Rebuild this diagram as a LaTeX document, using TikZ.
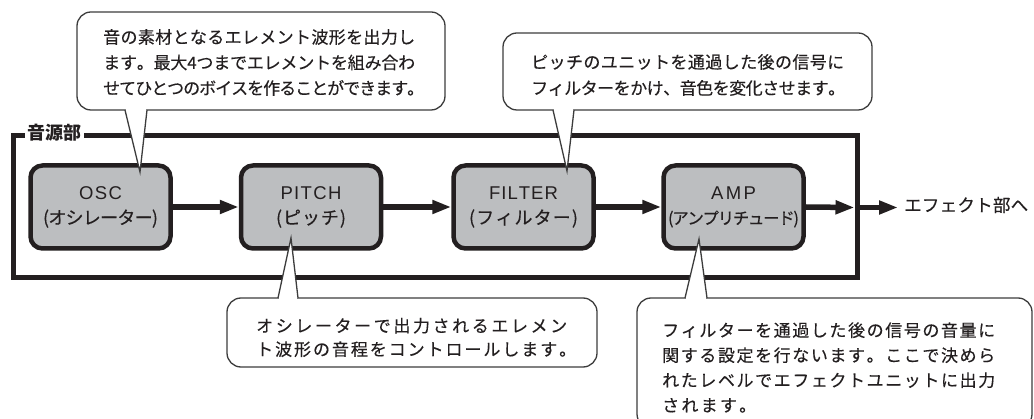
\documentclass[tikz,border=0pt]{standalone}
\usepackage{fontspec}
\setmainfont{Noto Sans CJK JP}[FakeBold=0.3]
\newfontfamily\labf{Noto Sans CJK JP}
\newfontfamily\latf{Liberation Sans}
\usetikzlibrary{arrows.meta}
\definecolor{ink}{HTML}{231F20}
\definecolor{boxgray}{HTML}{BCBEC0}
\definecolor{cline}{HTML}{3C3C3C}
\def\sprdglue{\hskip0pt plus1fil minus1fil\relax}
\def\sprd#1{\sprdA#1\relax}
\def\sprdA#1#2{#1\ifx\relax#2\else\sprdglue\expandafter\sprdA\expandafter#2\fi}
\newcommand\jl[2]{\makebox[#1pt][s]{\sprd{#2}}}
\tikzset{
  frame/.style={draw=ink, line width=5pt},
  blk/.style={draw=ink, line width=4.5pt, fill=boxgray, rounded corners=12pt,
    minimum width=140pt, minimum height=83pt, inner sep=0pt, align=center,
    text=ink, font=\fontsize{18}{25}\selectfont},
  arr/.style={draw=ink, line width=5.5pt, -{Triangle[length=19pt,width=13pt]}},
  callb/.style={draw=cline, line width=1.3pt, fill=white, rounded corners=14pt},
  tail/.style={draw=cline, line width=1.3pt, fill=white, line join=miter},
  ctext/.style={anchor=west, inner sep=0pt, align=left, text=ink},
  lab/.style={fill=white, inner xsep=2.5pt, inner ysep=0pt, text=ink,
    font=\labf\bfseries\fontsize{18}{18}\selectfont},
}
\begin{document}
\begin{tikzpicture}[x=1pt,y=-1pt]
\clip (0,0) rectangle (1034,419);
\fill[white] (0,0) rectangle (1034,419);
% frame
\draw[frame] (13,136) rectangle (857,278);
\node[lab] (src) at (54.5,133) {音源部};
% blocks
\node[blk] (osc) at (100.5,207) {{\fontsize{18.5}{25}\latf\jl{43}{OSC}}\\\jl{115}{(オシレーター)}};
\node[blk] (pitch) at (311,207) {{\fontsize{18.5}{25}\latf\jl{61}{PITCH}}\\\jl{70}{(ピッチ)}};
\node[blk] (filter) at (523.5,207) {{\fontsize{18.5}{25}\latf\jl{69}{FILTER}}\\\jl{109}{(フィルター)}};
\node[blk] (amp) at (733.5,207) {{\fontsize{18.5}{25}\latf\jl{45}{AMP}}\\{\fontsize{16.5}{25}\selectfont\jl{131}{(アンプリチュード)}}};
\coordinate (frR) at (854.5,207.5);
\coordinate (frO) at (857,207.5);
\node[inner sep=0pt, anchor=west, text=ink, font=\fontsize{17.5}{20}\selectfont] (out) at (904,205) {\jl{124}{エフェクト部へ}};
% arrows
\draw[arr] (osc.east) -- (pitch.west);
\draw[arr] (pitch.east) -- (filter.west);
\draw[arr] (filter.east) -- (amp.west);
\draw[arr] (amp.east) -- (frR);
\draw[arr, shorten >=6pt] (frO) -- (frO -| out.west);
% callout OSC
\filldraw[callb] (77,12) rectangle (445,110);
\fill[white] (125.7,108.8) rectangle (146.3,111.2);
\filldraw[tail] (125,110) -- (140,172) -- (147,110);
\node[ctext, font=\fontsize{17}{25.5}\selectfont] (tosc) at (103,62.5)
  {\jl{312}{音の素材となるエレメント波形を出力し}\\
   \jl{312}{ます。最大4つまでエレメントを組み合わ}\\
   \jl{321}{せてひとつのボイスを作ることができます。}};
% callout FILTER
\filldraw[callb] (503,33) rectangle (872,110);
\fill[white] (553.7,108.8) rectangle (573.3,111.2);
\filldraw[tail] (553,110) -- (567,171) -- (574,110);
\node[ctext, font=\fontsize{17}{26}\selectfont] (tfilter) at (531,75)
  {\jl{313}{ピッチのユニットを通過した後の信号に}\\
   \jl{314}{フィルターをかけ、音色を変化させます。}};
% callout PITCH
\filldraw[callb] (227,298) rectangle (597,367);
\fill[white] (278.7,296.8) rectangle (297.3,299.2);
\filldraw[tail] (278,298) -- (291,238) -- (298,298);
\node[ctext, font=\fontsize{17}{23.5}\selectfont] (tpitch) at (256,337.5)
  {\jl{311}{オシレーターで出力されるエレメン}\\
   \jl{320}{ト波形の音程をコントロールします。}};
% callout AMP
\filldraw[callb] (637,298) rectangle (1032,428);
\fill[white] (685.7,296.8) rectangle (706.3,299.2);
\filldraw[tail] (685,298) -- (699,239) -- (707,298);
\node[ctext, font=\fontsize{17}{25}\selectfont] (tamp) at (662,367.5)
  {\jl{333}{フィルターを通過した後の信号の音量に}\\
   \jl{333}{関する設定を行ないます。ここで決めら}\\
   \jl{333}{れたレベルでエフェクトユニットに出力}\\
   \jl{94}{されます。}};
\end{tikzpicture}
\end{document}
